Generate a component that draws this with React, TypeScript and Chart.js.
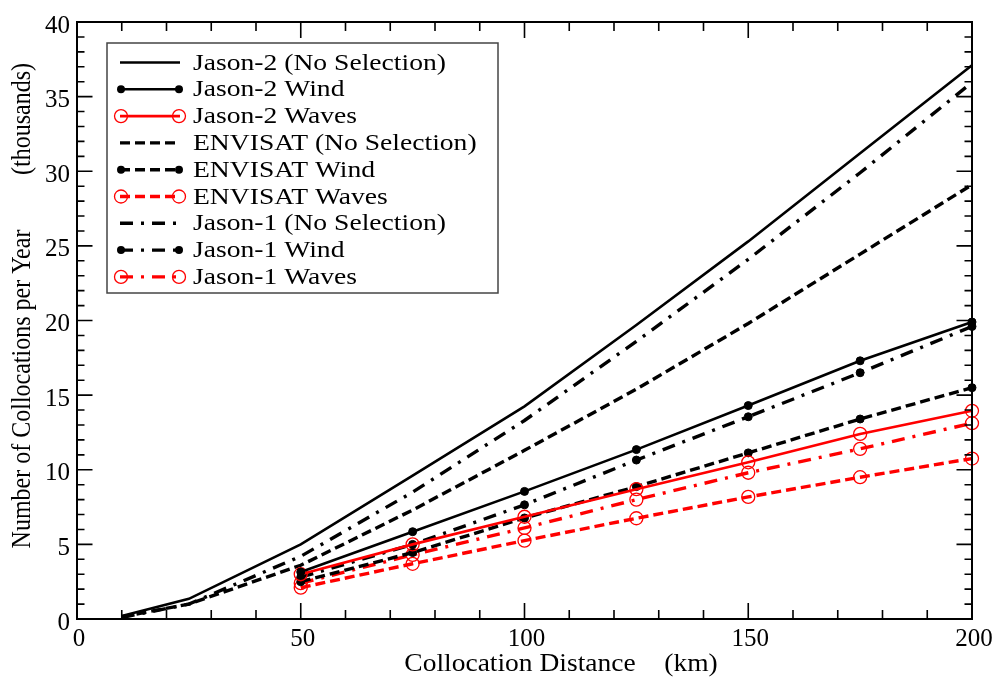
import React, { useEffect, useRef } from "react";
import { Chart, registerables } from "chart.js";

Chart.register(...registerables);

// ---- data (thousands of collocations per year) ----
const distNoSel = [10, 25, 50, 75, 100, 125, 150, 175, 200];
const distSel = [50, 75, 100, 125, 150, 175, 200];

const jason2NoSel = [0.2, 1.35, 5.0, 9.6, 14.25, 19.7, 25.3, 31.2, 37.1];
const jason2Wind = [3.15, 5.85, 8.55, 11.35, 14.3, 17.3, 19.9];
const jason2Waves = [3.0, 5.0, 6.85, 8.7, 10.5, 12.4, 13.95];

const envisatNoSel = [0.15, 1.0, 3.6, 7.3, 11.3, 15.4, 19.8, 24.45, 29.1];
const envisatWind = [2.5, 4.45, 6.77, 8.87, 11.13, 13.4, 15.5];
const envisatWaves = [2.1, 3.7, 5.25, 6.75, 8.18, 9.5, 10.75];

const jason1NoSel = [0.1, 1.0, 4.2, 8.5, 13.3, 18.6, 24.1, 29.9, 35.95];
const jason1Wind = [2.8, 5.0, 7.65, 10.65, 13.55, 16.5, 19.6];
const jason1Waves = [2.4, 4.3, 6.1, 8.0, 9.8, 11.4, 13.12];

const seriesLabels = [
  "Jason-2 (No Selection)",
  "Jason-2 Wind",
  "Jason-2 Waves",
  "ENVISAT (No Selection)",
  "ENVISAT Wind",
  "ENVISAT Waves",
  "Jason-1 (No Selection)",
  "Jason-1 Wind",
  "Jason-1 Waves",
];

const xTitle = "Collocation Distance";
const xUnit = "(km)";
const yTitle = "Number of Collocations per Year";
const yUnit = "(thousands)";

const FONT = "'Liberation Serif', 'Times New Roman', serif";
const RED = "#ff0000";
const SOLID: number[] = [];
const DASH = [10, 5];
const DASHDOT = [13, 8, 3, 8];

const pts = (xs: number[], ys: number[]) => xs.map((x, i) => ({ x, y: ys[i] }));

type Kind = "plain" | "wind" | "waves";
function makeDataset(label: string, xs: number[], ys: number[], dash: number[], kind: Kind) {
  const color = kind === "waves" ? RED : "#000000";
  const width = dash === SOLID ? 2.6 : 3.4;
  return {
    label,
    data: pts(xs, ys),
    borderColor: color,
    backgroundColor: color,
    borderWidth: width,
    borderDash: dash,
    borderCapStyle: "butt" as const,
    pointRadius: kind === "plain" ? 0 : kind === "wind" ? 4 : 6.5,
    pointBorderWidth: kind === "waves" ? 1.3 : 1,
    pointBorderColor: color,
    pointBackgroundColor: kind === "waves" ? "rgba(0,0,0,0)" : color,
    tension: 0,
    clip: false as const,
    _kind: kind,
  };
}

const frameTicks = {
  id: "frameTicks",
  afterDatasetsDraw(chart: any) {
    const { ctx, chartArea: a, scales } = chart;
    const x = scales.x;
    const y = scales.y;
    ctx.save();
    ctx.strokeStyle = "#000";
    ctx.lineWidth = 1.6;
    ctx.setLineDash([]);
    ctx.beginPath();
    for (let v = x.min; v <= x.max; v += 10) {
      const px = x.getPixelForValue(v);
      const len = v % 50 === 0 ? 16 : 9;
      ctx.moveTo(px, a.bottom);
      ctx.lineTo(px, a.bottom - len);
      ctx.moveTo(px, a.top);
      ctx.lineTo(px, a.top + len);
    }
    for (let v = y.min; v <= y.max; v += 1) {
      const py = y.getPixelForValue(v);
      const len = v % 5 === 0 ? 15.5 : 7.5;
      ctx.moveTo(a.left, py);
      ctx.lineTo(a.left + len, py);
      ctx.moveTo(a.right, py);
      ctx.lineTo(a.right - len, py);
    }
    ctx.stroke();
    ctx.lineWidth = 2;
    ctx.strokeRect(a.left, a.top, a.right - a.left, a.bottom - a.top);
    ctx.restore();
  },
};

const axisTitles = {
  id: "axisTitles",
  afterDraw(chart: any) {
    const { ctx } = chart;
    ctx.save();
    ctx.fillStyle = "#000";
    ctx.textBaseline = "alphabetic";
    ctx.textAlign = "center";
    // x title
    ctx.font = `25px ${FONT}`;
    ctx.save();
    ctx.translate(520, 671);
    ctx.scale(1.1, 1);
    ctx.fillText(xTitle, 0, 0);
    ctx.restore();
    ctx.save();
    ctx.translate(691, 671);
    ctx.scale(1.1, 1);
    ctx.fillText(xUnit, 0, 0);
    ctx.restore();
    // y title
    ctx.font = `24px ${FONT}`;
    ctx.save();
    ctx.translate(30, 389);
    ctx.rotate(-Math.PI / 2);
    ctx.scale(1, 1.12);
    ctx.fillText(yTitle, 0, 0);
    ctx.restore();
    ctx.save();
    ctx.translate(30, 119);
    ctx.rotate(-Math.PI / 2);
    ctx.scale(1, 1.12);
    ctx.fillText(yUnit, 0, 0);
    ctx.restore();
    ctx.restore();
  },
};

const boxLegend = {
  id: "boxLegend",
  afterDraw(chart: any) {
    const { ctx } = chart;
    const left = 107, top = 43, right = 498, bottom = 293;
    ctx.save();
    ctx.fillStyle = "#ffffff";
    ctx.fillRect(left, top, right - left, bottom - top);
    ctx.strokeStyle = "#444";
    ctx.lineWidth = 1.5;
    ctx.setLineDash([]);
    ctx.strokeRect(left, top, right - left, bottom - top);
    chart.data.datasets.forEach((ds: any, i: number) => {
      const cy = 62.5 + i * 26.8;
      const x0 = 121, x1 = 179;
      ctx.strokeStyle = ds.borderColor;
      ctx.lineWidth = ds.borderWidth;
      ctx.lineCap = "butt";
      ctx.setLineDash(ds.borderDash);
      ctx.beginPath();
      ctx.moveTo(x0 - 1, cy);
      ctx.lineTo(x1 + 1, cy);
      ctx.stroke();
      ctx.setLineDash([]);
      if (ds._kind !== "plain") {
        [x0, x1].forEach((mx) => {
          ctx.beginPath();
          ctx.arc(mx, cy, ds.pointRadius, 0, Math.PI * 2);
          if (ds._kind === "wind") {
            ctx.fillStyle = ds.borderColor;
            ctx.fill();
          } else {
            ctx.lineWidth = ds.pointBorderWidth;
            ctx.strokeStyle = ds.borderColor;
            ctx.stroke();
          }
        });
      }
      ctx.save();
      ctx.translate(193, cy + 1);
      ctx.scale(1.2, 1);
      ctx.fillStyle = "#000";
      ctx.font = `23px ${FONT}`;
      ctx.textAlign = "left";
      ctx.textBaseline = "middle";
      ctx.fillText(ds.label, 0, 0);
      ctx.restore();
    });
    ctx.restore();
  },
};

export default function App() {
  const canvasRef = useRef<HTMLCanvasElement | null>(null);

  useEffect(() => {
    document.body.style.margin = "0";
    const canvas = canvasRef.current;
    if (!canvas) return;
    const datasets = [
      makeDataset(seriesLabels[0], distNoSel, jason2NoSel, SOLID, "plain"),
      makeDataset(seriesLabels[1], distSel, jason2Wind, SOLID, "wind"),
      makeDataset(seriesLabels[2], distSel, jason2Waves, SOLID, "waves"),
      makeDataset(seriesLabels[3], distNoSel, envisatNoSel, DASH, "plain"),
      makeDataset(seriesLabels[4], distSel, envisatWind, DASH, "wind"),
      makeDataset(seriesLabels[5], distSel, envisatWaves, DASH, "waves"),
      makeDataset(seriesLabels[6], distNoSel, jason1NoSel, DASHDOT, "plain"),
      makeDataset(seriesLabels[7], distSel, jason1Wind, DASHDOT, "wind"),
      makeDataset(seriesLabels[8], distSel, jason1Waves, DASHDOT, "waves"),
    ];
    const chart = new Chart(canvas, {
      type: "line",
      data: { datasets: datasets as any },
      options: {
        animation: false,
        responsive: true,
        maintainAspectRatio: false,
        layout: { padding: { top: 16, right: 28, left: 0, bottom: 0 } },
        plugins: {
          legend: { display: false },
          tooltip: { enabled: false },
        },
        scales: {
          x: {
            type: "linear",
            min: 0,
            max: 200,
            grid: { display: false, drawTicks: false },
            border: { display: false },
            ticks: {
              stepSize: 50,
              padding: 5,
              labelOffset: 2,
              color: "#000",
              font: { family: FONT, size: 25 },
              maxRotation: 0,
            },
            afterFit: (s: any) => {
              s.height = 58;
            },
          },
          y: {
            type: "linear",
            min: 0,
            max: 40,
            grid: { display: false, drawTicks: false },
            border: { display: false },
            ticks: {
              stepSize: 5,
              padding: 7,
              labelOffset: 4,
              color: "#000",
              font: { family: FONT, size: 25 },
            },
            afterFit: (s: any) => {
              s.width = 77;
            },
          },
        },
      },
      plugins: [frameTicks, boxLegend, axisTitles],
    });
    return () => chart.destroy();
  }, []);

  return (
    <div style={{ width: 1000, height: 677, position: "relative" }}>
      <canvas ref={canvasRef} />
    </div>
  );
}
